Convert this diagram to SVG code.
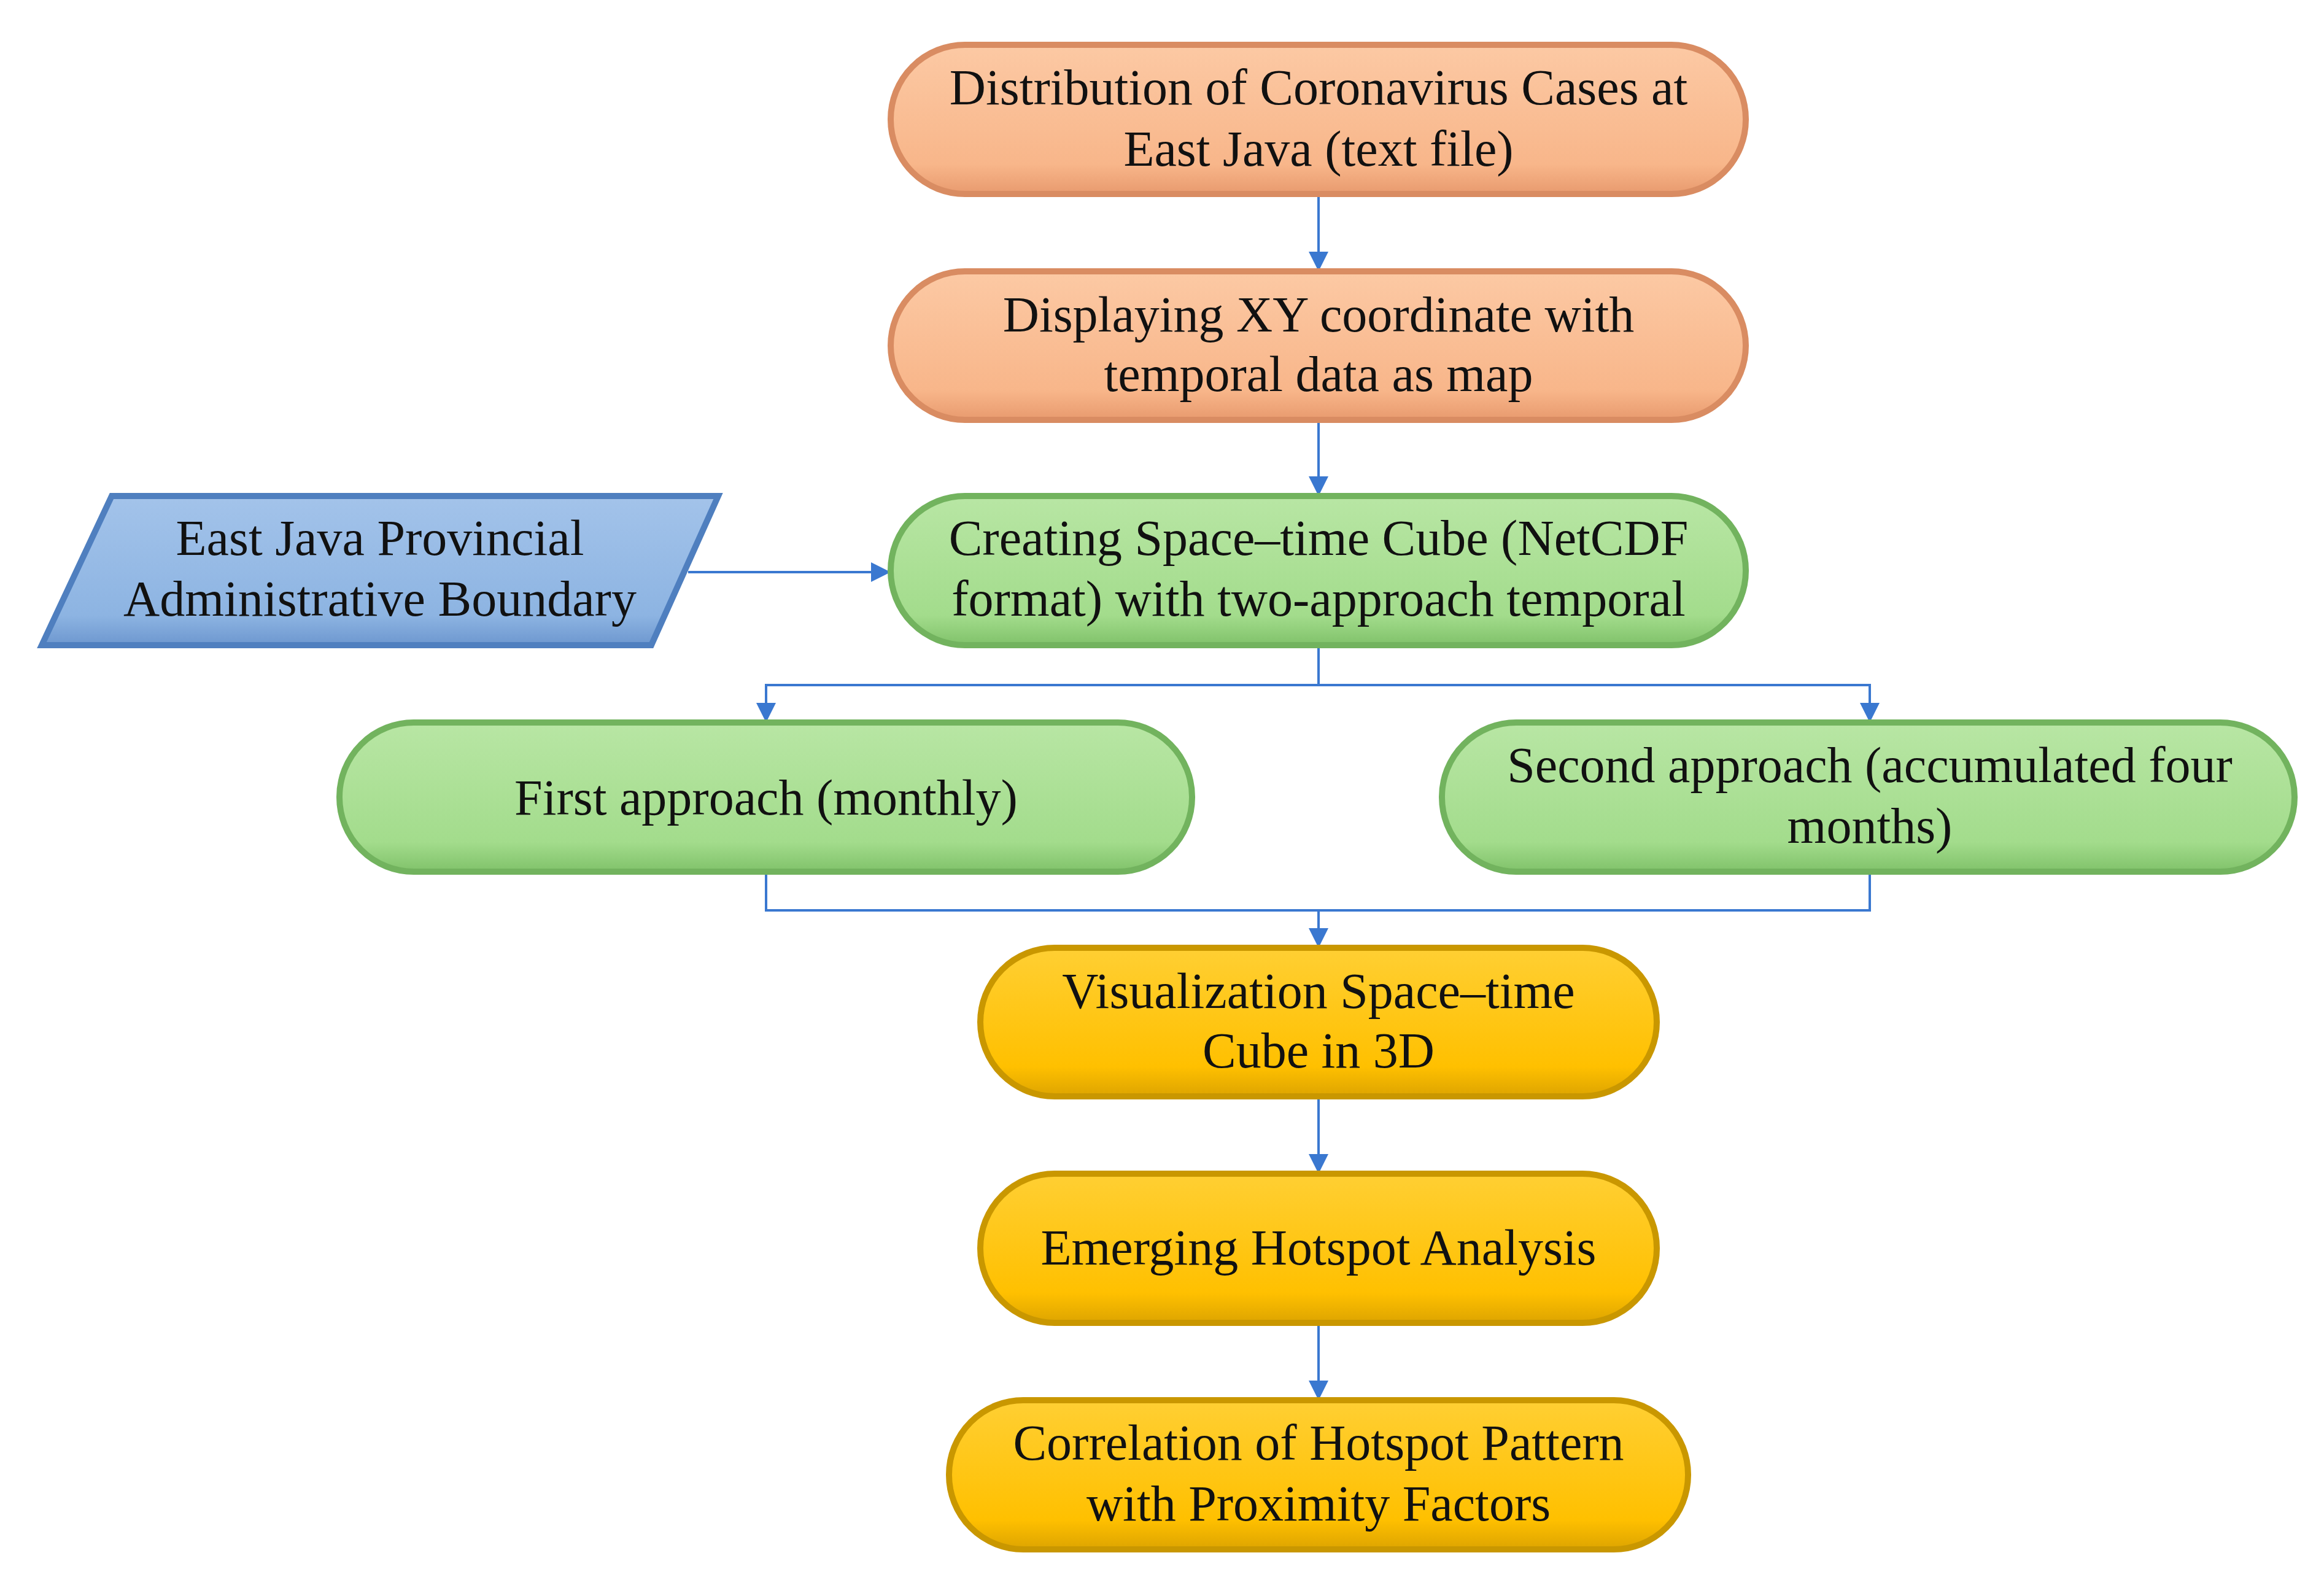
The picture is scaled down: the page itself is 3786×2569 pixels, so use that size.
<svg xmlns="http://www.w3.org/2000/svg" width="3786" height="2569" viewBox="0 0 3786 2569">
<style>
text{font-family:"Liberation Serif","DejaVu Serif",serif;font-size:82px;fill:#111;text-anchor:middle}
.c{fill:none;stroke:#3a78d0;stroke-width:4}
.or{fill:url(#gO);stroke:#d98c62;stroke-width:10}
.gr{fill:url(#gG);stroke:#72b35e;stroke-width:10}
.ye{fill:url(#gY);stroke:#c99700;stroke-width:10}
.bl{fill:url(#gB);stroke:#4f7fbf;stroke-width:10}
</style>
<defs>
<linearGradient id="gO" x1="0" y1="0" x2="0" y2="1"><stop offset="0" stop-color="#fcc9a4"/><stop offset="0.8" stop-color="#f8b68a"/><stop offset="1" stop-color="#e89a6e"/></linearGradient>
<linearGradient id="gG" x1="0" y1="0" x2="0" y2="1"><stop offset="0" stop-color="#b8e6a4"/><stop offset="0.8" stop-color="#a3dc8c"/><stop offset="1" stop-color="#80c26a"/></linearGradient>
<linearGradient id="gY" x1="0" y1="0" x2="0" y2="1"><stop offset="0" stop-color="#ffcf33"/><stop offset="0.8" stop-color="#ffc000"/><stop offset="1" stop-color="#dda400"/></linearGradient>
<linearGradient id="gB" x1="0" y1="0" x2="0" y2="1"><stop offset="0" stop-color="#a3c3ea"/><stop offset="0.8" stop-color="#8db4e2"/><stop offset="1" stop-color="#6d97cf"/></linearGradient>
<marker id="a" markerWidth="8" markerHeight="8" refX="7" refY="4" orient="auto" markerUnits="strokeWidth"><path d="M0,0 L8,4 L0,8 Z" fill="#3a78d0"/></marker>
</defs>
<g id="connectors">
<line class="c" x1="2148" y1="318" x2="2148" y2="438" marker-end="url(#a)"/>
<line class="c" x1="2148" y1="686" x2="2148" y2="804" marker-end="url(#a)"/>
<line class="c" x1="1121" y1="932" x2="1447" y2="932" marker-end="url(#a)"/>
<polyline class="c" points="2148,1053 2148,1116 1248,1116 1248,1173" marker-end="url(#a)"/>
<polyline class="c" points="2148,1116 3046,1116 3046,1173" marker-end="url(#a)"/>
<polyline class="c" points="1248,1422 1248,1483 3046,1483 3046,1422"/>
<line class="c" x1="2148" y1="1483" x2="2148" y2="1540" marker-end="url(#a)"/>
<line class="c" x1="2148" y1="1788" x2="2148" y2="1908" marker-end="url(#a)"/>
<line class="c" x1="2148" y1="2157" x2="2148" y2="2277" marker-end="url(#a)"/>
</g>
<g id="n1"><rect class="or" x="1451" y="73" width="1393" height="243" rx="121"/><text x="2148" y="170">Distribution of Coronavirus Cases at</text><text x="2148" y="270">East Java (text file)</text></g>
<g id="n2"><rect class="or" x="1451" y="442" width="1393" height="242" rx="121"/><text x="2148" y="540">Displaying XY coordinate with</text><text x="2148" y="637">temporal data as map</text></g>
<g id="n3"><rect class="gr" x="1451" y="808" width="1393" height="243" rx="121"/><text x="2148" y="904">Creating Space–time Cube (NetCDF</text><text x="2148" y="1003">format) with two-approach temporal</text></g>
<g id="n4"><polygon class="bl" points="68,1051 182,808 1170,808 1061,1051"/><text x="619" y="904">East Java Provincial</text><text x="619" y="1003">Administrative Boundary</text></g>
<g id="n5"><rect class="gr" x="553" y="1177" width="1389" height="243" rx="121"/><text x="1248" y="1327">First approach (monthly)</text></g>
<g id="n6"><rect class="gr" x="2349" y="1177" width="1389" height="243" rx="121"/><text x="3046" y="1274">Second approach (accumulated four</text><text x="3046" y="1373">months)</text></g>
<g id="n7"><rect class="ye" x="1597" y="1544" width="1102" height="242" rx="121"/><text x="2148" y="1642">Visualization Space–time</text><text x="2148" y="1739">Cube in 3D</text></g>
<g id="n8"><rect class="ye" x="1597" y="1912" width="1102" height="243" rx="121"/><text x="2148" y="2060">Emerging Hotspot Analysis</text></g>
<g id="n9"><rect class="ye" x="1546" y="2281" width="1204" height="243" rx="121"/><text x="2148" y="2378">Correlation of Hotspot Pattern</text><text x="2148" y="2477">with Proximity Factors</text></g>
</svg>
